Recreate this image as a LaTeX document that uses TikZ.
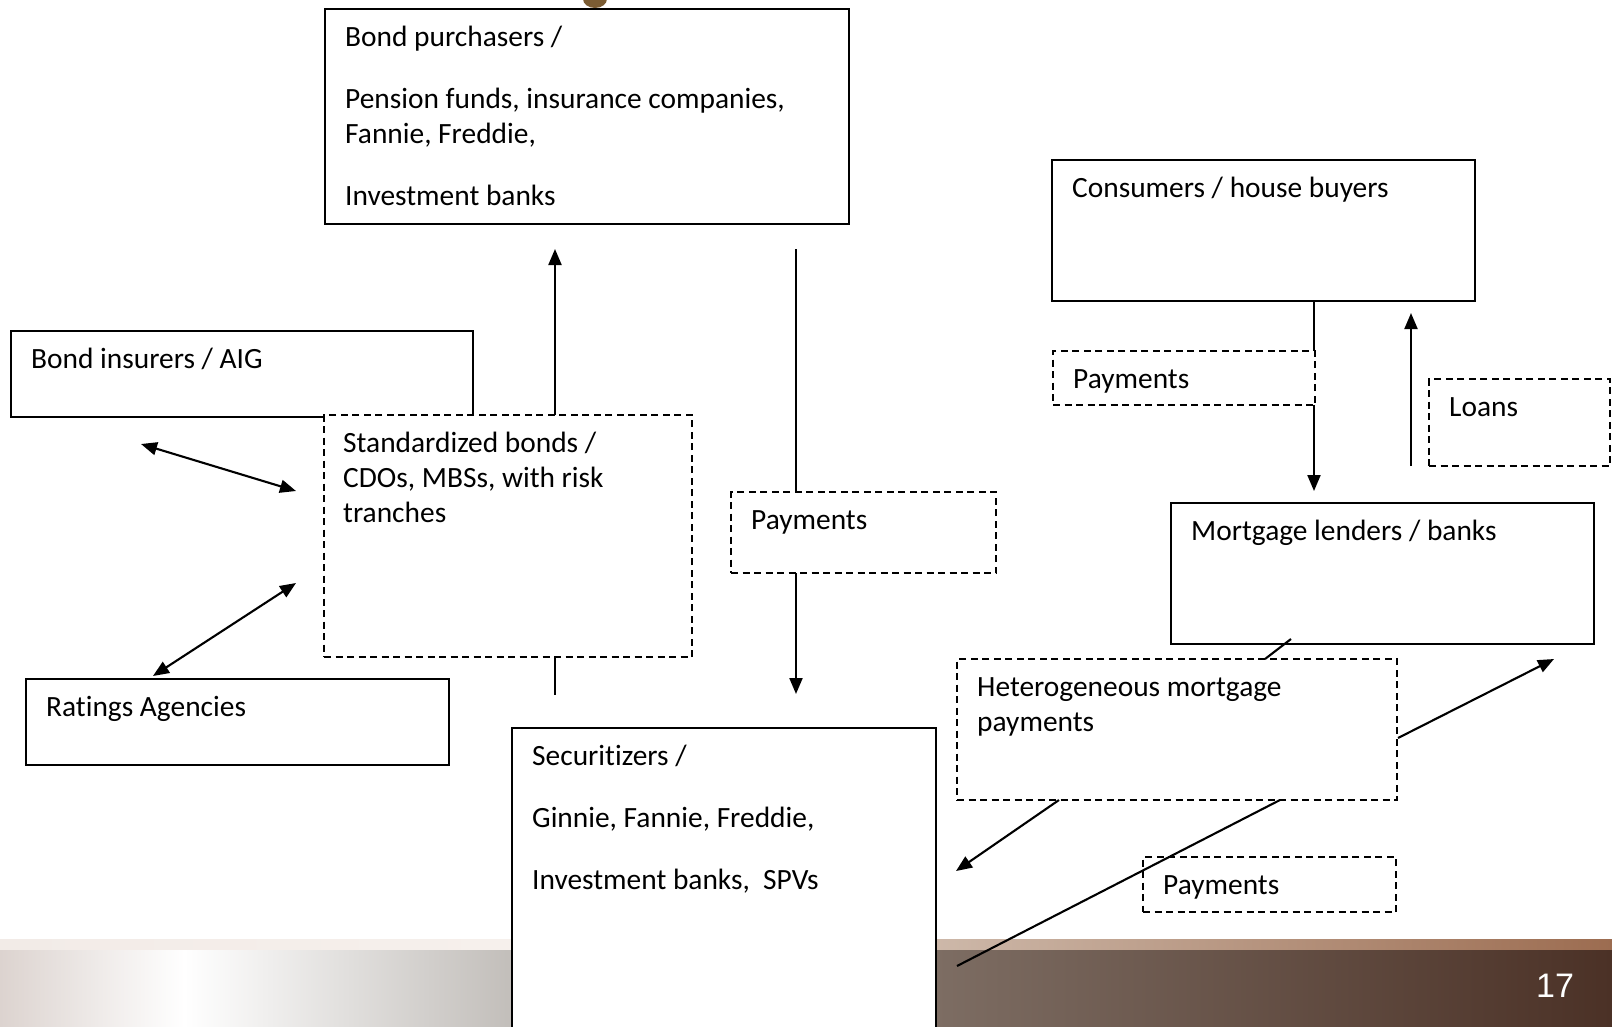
\documentclass[tikz,border=0pt]{standalone}
\usepackage{fontspec}
\setmainfont{Carlito}[Ligatures=NoCommon]
\newfontfamily\numfont{Liberation Sans}
\usetikzlibrary{arrows.meta,calc}

\definecolor{bandgrayA}{HTML}{DCD3CF}
\definecolor{bandgrayB}{HTML}{C2BEBA}
\definecolor{bandbrownA}{HTML}{7D6D63}
\definecolor{bandbrownB}{HTML}{4B3126}
\definecolor{striplightA}{HTML}{F2EBE7}
\definecolor{striplightB}{HTML}{F6F0EC}
\definecolor{stripbrownA}{HTML}{CDB8A9}
\definecolor{stripbrownB}{HTML}{9C6C50}
\definecolor{titlebrown}{HTML}{7B5C33}

\pgfdeclarehorizontalshading{leftband}{100bp}{color(0bp)=(bandgrayA); color(25bp)=(bandgrayA); color(43bp)=(white); color(75bp)=(bandgrayB); color(100bp)=(bandgrayB)}

% lines of a box text, first baseline is the node's base
\newcommand{\boxlines}[1]{\begin{tabular}[t]{@{}l@{}}#1\end{tabular}}

\tikzset{
  box/.style={draw, line width=1.9pt, fill=white, anchor=north west, inner sep=0pt, outer sep=0pt},
  dashbox/.style={box, line width=1.6pt, dash pattern=on 7pt off 4.5pt},
  txt/.style={anchor=base west, inner sep=0pt, font=\fontsize{29.4}{35}\selectfont},
  link/.style={line width=2.1pt},
  arr/.style={link, -{Triangle[length=16pt,width=13pt]}},
  dbl/.style={link, {Triangle[length=16pt,width=13pt]}-{Triangle[length=16pt,width=13pt]}}
}

\begin{document}
\begin{tikzpicture}[x=1pt, y=-1pt]
  \useasboundingbox (0,0) rectangle (1612,1026);
  \clip (0,0) rectangle (1612,1026);

  % footer band
  \shade[shading=leftband] (0,949) rectangle (512,1026);
  \shade[left color=striplightA, right color=striplightB] (0,939) rectangle (512,949);
  \shade[left color=bandbrownA, right color=bandbrownB] (936,949) rectangle (1612,1026);
  \shade[left color=stripbrownA, right color=stripbrownB] (936,939) rectangle (1612,949);
  \node (pg) [text=white, font=\numfont\fontsize{34}{40}\selectfont] at (1555,986) {17};
  \fill[titlebrown] (583,-1) arc[start angle=180, end angle=0, x radius=12, y radius=9];

  % boxes
  \node (bp) [box, minimum width=524pt, minimum height=215pt] at (325,9) {};
  \node (bp-t) [txt] at ([shift={(20pt,-37pt)}]bp.north west) {\boxlines{Bond purchasers /\\[27pt]Pension funds, insurance companies,\\Fannie, Freddie,\\[27pt]Investment banks}};

  \node (cons) [box, minimum width=423pt, minimum height=141pt] at (1052,160) {};
  \node (cons-t) [txt] at ([shift={(20pt,-37pt)}]cons.north west) {Consumers / house buyers};

  \node (ins) [box, minimum width=462pt, minimum height=86pt] at (11,331) {};
  \node (ins-t) [txt] at ([shift={(20pt,-37pt)}]ins.north west) {Bond insurers / AIG};

  \node (std) [dashbox, minimum width=368pt, minimum height=242pt] at (324,415) {};
  \node (std-t) [txt] at ([shift={(19pt,-37pt)}]std.north west) {\boxlines{Standardized bonds /\\CDOs, MBSs, with risk\\tranches}};

  \node (pay1) [dashbox, minimum width=265pt, minimum height=81pt] at (731,492) {};
  \node (pay1-t) [txt] at ([shift={(20pt,-37pt)}]pay1.north west) {Payments};

  \node (pay2) [dashbox, minimum width=262pt, minimum height=54pt] at (1053,351) {};
  \node (pay2-t) [txt] at ([shift={(20pt,-37pt)}]pay2.north west) {Payments};

  \node (loans) [dashbox, minimum width=181pt, minimum height=87pt] at (1429,379) {};
  \node (loans-t) [txt] at ([shift={(20pt,-37pt)}]loans.north west) {Loans};

  \node (mort) [box, minimum width=423pt, minimum height=141pt] at (1171,503) {};
  \node (mort-t) [txt] at ([shift={(20pt,-37pt)}]mort.north west) {Mortgage lenders / banks};

  \node (rat) [box, minimum width=423pt, minimum height=86pt] at (26,679) {};
  \node (rat-t) [txt] at ([shift={(20pt,-37pt)}]rat.north west) {Ratings Agencies};

  \node (sec) [box, minimum width=424pt, minimum height=320pt] at (512,728) {};
  \node (sec-t) [txt] at ([shift={(20pt,-37pt)}]sec.north west) {\boxlines{Securitizers /\\[27pt]Ginnie, Fannie, Freddie,\\[27pt]Investment banks,~ SPVs}};

  \node (het) [dashbox, minimum width=440pt, minimum height=141pt] at (957,659) {};
  \node (het-t) [txt] at ([shift={(20pt,-37pt)}]het.north west) {\boxlines{Heterogeneous mortgage\\payments}};

  \node (pay3) [dashbox, minimum width=253pt, minimum height=55pt] at (1143,857) {};
  \node (pay3-t) [txt] at ([shift={(20pt,-37pt)}]pay3.north west) {Payments};

  % connectors
  \draw[arr] ([xshift=231pt]std.north west) -- ([xshift=230pt,yshift=-25pt]bp.south west);
  \draw[link] ([xshift=231pt]std.south west) -- ([xshift=231pt,yshift=-38pt]std.south west);
  \draw[link] ([xshift=471pt,yshift=-25pt]bp.south west) -- ([xshift=65pt]pay1.north west);
  \draw[arr] ([xshift=65pt]pay1.south west) -- ([xshift=284pt,yshift=34pt]sec.north west);
  \draw[dbl] ([shift={(130pt,-27pt)}]ins.south west) -- ([shift={(-28pt,-76pt)}]std.north west);
  \draw[dbl] ([shift={(127pt,3pt)}]rat.north west) -- ([shift={(-28pt,-168pt)}]std.north west);
  \draw[link] ([xshift=262pt]cons.south west) -- ([xshift=-1pt]pay2.north east);
  \draw[arr] ([xshift=-1pt]pay2.south east) -- ([xshift=143pt,yshift=12pt]mort.north west);
  \draw[arr] ([xshift=-18pt]loans.south west) -- ([xshift=359pt,yshift=-12pt]cons.south west);
  \draw[link] ([shift={(120pt,5pt)}]mort.south west) -- ([xshift=308pt]het.north west);
  \draw[arr] ([shift={(1pt,-79pt)}]het.north east) -- ([shift={(-40pt,-15pt)}]mort.south east);
  \draw[arr] ([xshift=102pt]het.south west) -- ([shift={(20pt,-143pt)}]sec.north east);
  \coordinate (tail) at ([shift={(21pt,-238pt)}]sec.north east);
  \draw[link] ([xshift=323pt]het.south west) -- (tail);
\end{tikzpicture}
\end{document}
